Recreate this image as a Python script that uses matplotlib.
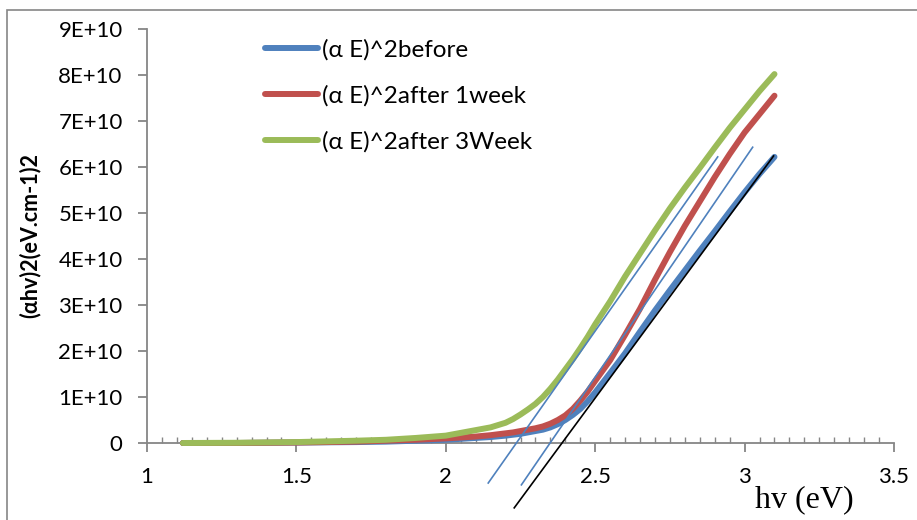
import numpy as np
import matplotlib
matplotlib.use("Agg")
import matplotlib.pyplot as plt
from matplotlib.patches import Rectangle
from matplotlib.ticker import FuncFormatter, MultipleLocator

plt.rcParams['font.family'] = ['Lato', 'DejaVu Sans']

# photon energy (eV)
hv = [1.12, 1.3, 1.5, 1.7, 1.8, 1.9, 2.0, 2.05, 2.1, 2.15, 2.2, 2.225, 2.25, 2.275, 2.3,
      2.325, 2.35, 2.375, 2.4, 2.425, 2.45, 2.475, 2.5, 2.55, 2.6, 2.65, 2.7, 2.75, 2.8,
      2.85, 2.9, 2.95, 3.0, 3.05, 3.1]

# (alpha E)^2 in units of 1E+10
before = [0.0, 0.0, 0.01, 0.02, 0.03, 0.05, 0.07, 0.09, 0.11, 0.13, 0.16, 0.18, 0.20, 0.23, 0.26,
          0.29, 0.34, 0.41, 0.50, 0.61, 0.74, 0.91, 1.10, 1.52, 1.95, 2.42, 2.88, 3.32, 3.75,
          4.18, 4.60, 5.03, 5.45, 5.85, 6.22]
after_1week = [0.0, 0.0, 0.01, 0.03, 0.05, 0.07, 0.10, 0.12, 0.14, 0.17, 0.21, 0.23, 0.26, 0.29, 0.32,
               0.36, 0.42, 0.50, 0.60, 0.74, 0.92, 1.12, 1.35, 1.80, 2.35, 2.92, 3.55, 4.15, 4.72,
               5.25, 5.78, 6.28, 6.75, 7.15, 7.55]
after_3week = [0.0, 0.005, 0.02, 0.05, 0.07, 0.11, 0.16, 0.22, 0.28, 0.34, 0.44, 0.52, 0.62, 0.73, 0.85,
               1.00, 1.18, 1.38, 1.60, 1.82, 2.06, 2.31, 2.58, 3.08, 3.62, 4.12, 4.62, 5.10, 5.55,
               5.98, 6.42, 6.85, 7.25, 7.65, 8.02]

series_labels = ['(α E)^2before', '(α E)^2after 1week', '(α E)^2after 3Week']

# straight-line extrapolations (endpoints, y in 1E+10)
fit_black_x = [2.229, 3.097]
fit_black_y = [-1.41, 6.24]
fit_blue1_x = [2.142, 2.910]
fit_blue1_y = [-0.87, 6.22]
fit_blue2_x = [2.253, 3.027]
fit_blue2_y = [-0.91, 6.43]

blue = '#4F81BD'
red = '#C0504D'
green = '#9BBB59'
grey = '#868686'

fig = plt.figure(figsize=(9.17, 5.2), dpi=100)
ax = fig.add_axes([147 / 917, 1 - 443 / 520, (894 - 147) / 917, (443 - 29) / 520])

scale = 1e10
for ys, c, lab in zip([before, after_1week, after_3week], [blue, red, green], series_labels):
    ax.plot(hv, np.array(ys) * scale, color=c, lw=4.3, label=lab,
            solid_capstyle='round', solid_joinstyle='round', clip_on=False, zorder=3)

ax.plot(fit_blue1_x, np.array(fit_blue1_y) * scale, color=blue, lw=1.2, clip_on=False, zorder=4)
ax.plot(fit_blue2_x, np.array(fit_blue2_y) * scale, color=blue, lw=1.2, clip_on=False, zorder=4)
ax.plot(fit_black_x, np.array(fit_black_y) * scale, color='black', lw=1.2, clip_on=False, zorder=4)

ax.set_xlim(1, 3.5)
ax.set_ylim(0, 9e10)
ax.xaxis.set_major_locator(MultipleLocator(0.5))
ax.xaxis.set_minor_locator(MultipleLocator(0.05))
ax.yaxis.set_major_locator(MultipleLocator(1e10))
ax.xaxis.set_major_formatter(FuncFormatter(lambda v, p: f"{v:g}"))
ax.yaxis.set_major_formatter(FuncFormatter(lambda v, p: f"{int(round(v / 1e10))}E+10" if v else "0"))

for s in ['top', 'right']:
    ax.spines[s].set_visible(False)
for s in ['left', 'bottom']:
    ax.spines[s].set_color(grey)
    ax.spines[s].set_linewidth(1.3)

ax.tick_params(axis='x', which='major', direction='out', length=6.5, width=1.3,
               color=grey, labelsize=16, pad=11)
ax.tick_params(axis='x', which='minor', direction='in', length=4, width=1.0, color=grey)
ax.tick_params(axis='y', which='major', direction='out', length=6.5, width=1.3,
               color=grey, labelsize=16, pad=11)

fig.text(30 / 917, 1 - 236 / 520, '(αhv)2(eV.cm-1)2', rotation=90, fontsize=15.5,
         fontweight='bold', ha='center', va='center')
fig.text(755 / 917, 1 - 507 / 520, 'hv (eV)', family='Liberation Serif', fontsize=23,
         ha='left', va='baseline')

ax.legend(loc='upper left', bbox_to_anchor=(265 / 917, 1 - 39 / 520),
          bbox_transform=fig.transFigure, frameon=False, fontsize=17.5,
          handlelength=2.2, handletextpad=0.16, labelspacing=1.0, borderpad=0,
          borderaxespad=0)

fig.patches.append(Rectangle((7 / 917, -0.1), 1.2, 1.1 - 10 / 520, transform=fig.transFigure,
                             fill=False, edgecolor=grey, lw=1.2))

fig.savefig('out.png', dpi=100)
